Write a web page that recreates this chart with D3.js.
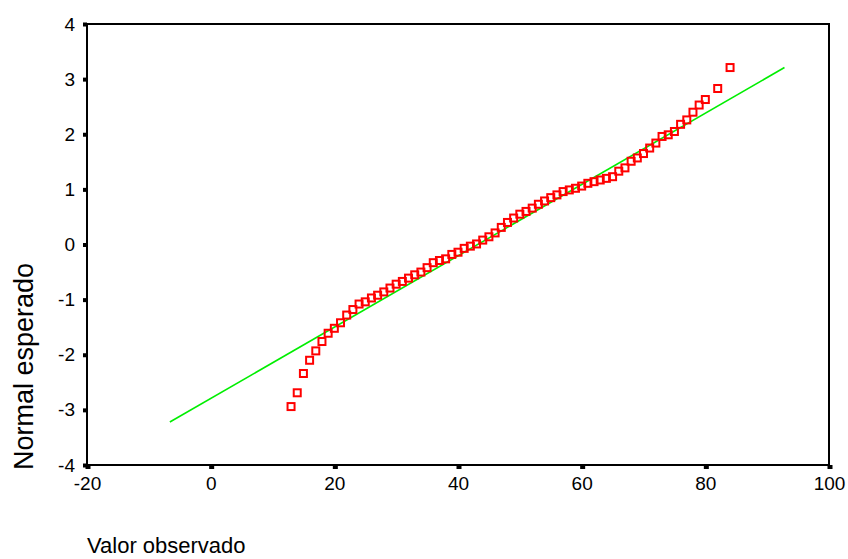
<!DOCTYPE html>
<html>
<head>
<meta charset="utf-8">
<script src="https://cdn.jsdelivr.net/npm/d3@7"></script>
<style>
  html, body { margin: 0; padding: 0; background: #fff; }
  svg { display: block; }
  text { font-family: "Liberation Sans", Arial, sans-serif; fill: #000; }
</style>
</head>
<body>
<svg id="chart" width="848" height="559"></svg>
<script>
// Observed values (x) and expected normal values (y)
const observed = [13,14,15,16,17,18,19,20,21,22,23,24,25,26,27,28,29,30,31,32,33,34,35,36,37,38,39,40,41,42,43,44,45,46,47,48,49,50,51,52,53,54,55,56,57,58,59,60,61,62,63,64,65,66,67,68,69,70,71,72,73,74,75,76,77,78,79,80,82,84];
const expectedNormal = [-2.94,-2.69,-2.34,-2.10,-1.93,-1.76,-1.61,-1.52,-1.42,-1.28,-1.18,-1.08,-1.04,-0.97,-0.92,-0.86,-0.79,-0.72,-0.67,-0.61,-0.55,-0.50,-0.42,-0.33,-0.29,-0.26,-0.18,-0.14,-0.07,-0.03,0.01,0.08,0.14,0.21,0.31,0.40,0.48,0.55,0.60,0.66,0.73,0.79,0.85,0.90,0.96,0.99,1.02,1.06,1.11,1.14,1.17,1.20,1.23,1.33,1.39,1.51,1.57,1.65,1.75,1.84,1.96,1.99,2.05,2.18,2.26,2.40,2.53,2.63,2.83,3.21];
// Reference line endpoints
const lineX = [-6.6, 92.8];
const lineY = [-3.22, 3.21];
// Ticks
const xTicks = [-20, 0, 20, 40, 60, 80, 100];
const yTicks = [-4, -3, -2, -1, 0, 1, 2, 3, 4];
const xTitle = "Valor observado";
const yTitle = "Normal esperado";

const svg = d3.select("#chart");
const x = d3.scaleLinear().domain([-20, 100]).range([87, 829]);
const y = d3.scaleLinear().domain([-4, 4]).range([465, 24]);
const fmt = d => String(d);

// Frame
svg.append("rect")
  .attr("x", x(-20)).attr("y", y(4))
  .attr("width", x(100) - x(-20)).attr("height", y(-4) - y(4))
  .attr("fill", "none").attr("stroke", "#000").attr("stroke-width", 2);

// Y axis
const yAxis = d3.axisLeft(y).tickValues(yTicks).tickSize(0).tickPadding(12).tickFormat(fmt);
const gy = svg.append("g").attr("transform", `translate(${x(-20)},0)`).call(yAxis);
gy.select(".domain").remove();
gy.selectAll("text").attr("font-size", "19px").attr("font-family", "Liberation Sans, Arial, sans-serif").attr("fill", "#000");
gy.selectAll(".tick").append("rect")
  .attr("x", -4).attr("y", -2).attr("width", 4).attr("height", 4).attr("fill", "#000");

// X axis
const xAxis = d3.axisBottom(x).tickValues(xTicks).tickSize(0).tickPadding(12).tickFormat(fmt);
const gx = svg.append("g").attr("transform", `translate(0,${y(-4)})`).call(xAxis);
gx.select(".domain").remove();
gx.selectAll("text").attr("font-size", "19px").attr("font-family", "Liberation Sans, Arial, sans-serif").attr("fill", "#000");
gx.selectAll(".tick").append("rect")
  .attr("x", -2).attr("y", 0).attr("width", 5).attr("height", 4).attr("fill", "#000");

// Reference line
svg.append("line")
  .attr("x1", x(lineX[0])).attr("y1", y(lineY[0]))
  .attr("x2", x(lineX[1])).attr("y2", y(lineY[1]))
  .attr("stroke", "#00ee00").attr("stroke-width", 1.6);

// Points
const pts = observed.map((v, i) => ({ x: v, y: expectedNormal[i] }));
svg.append("g").selectAll("rect").data(pts).join("rect")
  .attr("x", d => x(d.x) - 3.5).attr("y", d => y(d.y) - 3.5)
  .attr("width", 7).attr("height", 7)
  .attr("fill", "none").attr("stroke", "#ff0000").attr("stroke-width", 2);

// Titles
svg.append("text").attr("x", 87).attr("y", 553)
  .attr("font-size", "22px").text(xTitle);
svg.append("text")
  .attr("transform", "translate(33,470) rotate(-90)")
  .attr("font-size", "27px").text(yTitle);
</script>
</body>
</html>
